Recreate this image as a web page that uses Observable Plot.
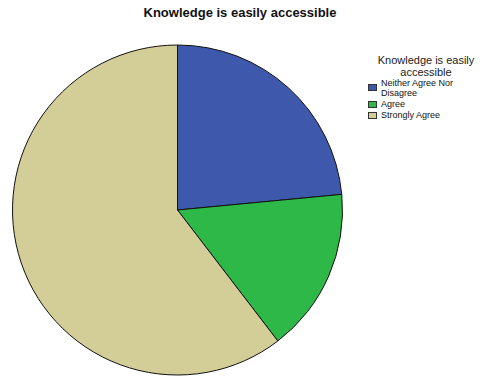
<!DOCTYPE html>
<html>
<head>
<meta charset="utf-8">
<script src="https://cdn.jsdelivr.net/npm/d3@7"></script>
<script src="https://cdn.jsdelivr.net/npm/@observablehq/plot@0.6"></script>
<style>
  html, body { margin: 0; padding: 0; background: #fff; }
  #wrap { position: relative; width: 480px; height: 377px; font-family: "Liberation Sans", Arial, sans-serif; }
  #title { position: absolute; left: 0; width: 480px; top: 5px; text-align: center; font-weight: bold; font-size: 13px; color: #111; }
  #chart { position: absolute; left: 0; top: 0; }
  #legend { position: absolute; left: 366px; top: 53.5px; width: 114px; font-size: 9px; color: #111; }
  #legend .lt { text-align: center; font-size: 11px; line-height: 12px; width: 120px; color: #222; }
  #legend .item { position: relative; padding-left: 15px; line-height: 10px; margin-bottom: 1px; }
  #legend .sw { position: absolute; left: 2px; width: 9px; height: 7px; border: 0.5px solid #333; box-sizing: border-box; }
</style>
</head>
<body>
<div id="wrap">
  <div id="chart"></div>
  <div id="title"></div>
  <div id="legend"></div>
</div>
<script>
const title = "Knowledge is easily accessible";
const legendTitle = ["Knowledge is easily", "accessible"];
const categories = ["Neither Agree Nor Disagree", "Agree", "Strongly Agree"];
const legendLabels = [["Neither Agree Nor", "Disagree"], ["Agree"], ["Strongly Agree"]];
const counts = [35, 24, 90];
const colors = ["#3E58AC", "#2EB848", "#D3CE97"];

const data = categories.map((c, i) => ({category: c, count: counts[i]}));

const pieMark = (index, scales, values, dimensions) => {
  const sx = scales.x, sy = scales.y;
  const cx = sx(0), cy = sy(0);
  const r = Math.abs(sx(1) - sx(0));
  const color = scales.color;
  const arcs = d3.pie().sort(null).value(d => d.count)(data);
  const arc = d3.arc().innerRadius(0).outerRadius(r);
  const g = d3.create("svg:g").attr("transform", `translate(${cx},${cy})`);
  g.selectAll("path").data(arcs).join("path")
    .attr("d", arc)
    .attr("fill", d => color(d.data.category))
    .attr("stroke", "#111")
    .attr("stroke-width", 1)
    .attr("stroke-linejoin", "round");
  return g.node();
};

const plot = Plot.plot({
  width: 480,
  height: 377,
  marginLeft: 12.5,
  marginRight: 137.5,
  marginTop: 45,
  marginBottom: 2,
  x: {domain: [-1, 1], axis: null},
  y: {domain: [-1, 1], axis: null},
  color: {domain: categories, range: colors},
  style: {background: "#fff"},
  marks: [pieMark]
});
document.getElementById("chart").appendChild(plot);

document.getElementById("title").textContent = title;

const legend = document.getElementById("legend");
const lt = document.createElement("div");
lt.className = "lt";
lt.innerHTML = legendTitle.join("<br>");
legend.appendChild(lt);
const gap = document.createElement("div");
gap.style.height = "0.5px";
legend.appendChild(gap);
legendLabels.forEach((lines, i) => {
  const it = document.createElement("div");
  it.className = "item";
  const sw = document.createElement("span");
  sw.className = "sw";
  sw.style.background = colors[i];
  sw.style.top = (lines.length > 1 ? 6 : 2) + "px";
  it.appendChild(sw);
  const tx = document.createElement("span");
  tx.innerHTML = lines.join("<br>");
  it.appendChild(tx);
  legend.appendChild(it);
});
</script>
</body>
</html>
